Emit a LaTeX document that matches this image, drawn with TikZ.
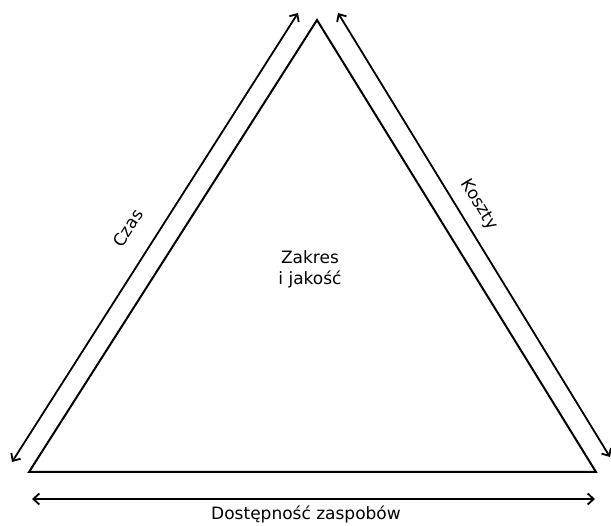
\documentclass[tikz,border=0pt]{standalone}
\usepackage{fontspec}
\setmainfont{DejaVu Sans}
\usetikzlibrary{arrows.meta}
\tikzset{
  edge/.style={line width=2pt,draw=black,line join=miter},
  sidearrow/.style={{Straight Barb[length=6pt,width=11pt]}-{Straight Barb[length=6pt,width=11pt]},line width=1.8pt},
  lab/.style={font=\fontsize{17}{21}\selectfont,align=center}
}
\begin{document}
\begin{tikzpicture}[x=1pt,y=-1pt]
  \useasboundingbox (0,0) rectangle (611,526);
  % triangle
  \coordinate (top) at (317,20);
  \coordinate (bl) at (29,472);
  \coordinate (br) at (596,472);
  \draw[edge] (top) -- (bl) -- (br) -- cycle;

  % arrows along the sides
  \coordinate (czasA) at (12,462);
  \coordinate (czasB) at (298,13);
  \coordinate (kosA) at (338,13);
  \coordinate (kosB) at (610,457);
  \coordinate (dosA) at (32,499);
  \coordinate (dosB) at (595,499);
  \draw[sidearrow] (czasA) -- (czasB);
  \draw[sidearrow] (kosA) -- (kosB);
  \draw[sidearrow] (dosA) -- (dosB);

  % labels
  \node[lab,rotate=57.6] (czas) at (128,228) {Czas};
  \node[lab,rotate=-58.4] (koszty) at (479,205) {Koszty};
  \node[lab] (dost) at (306,514) {Dostępność zaspobów};
  \node[lab] (zakres) at (310,269) {Zakres\\i jakość};
\end{tikzpicture}
\end{document}
